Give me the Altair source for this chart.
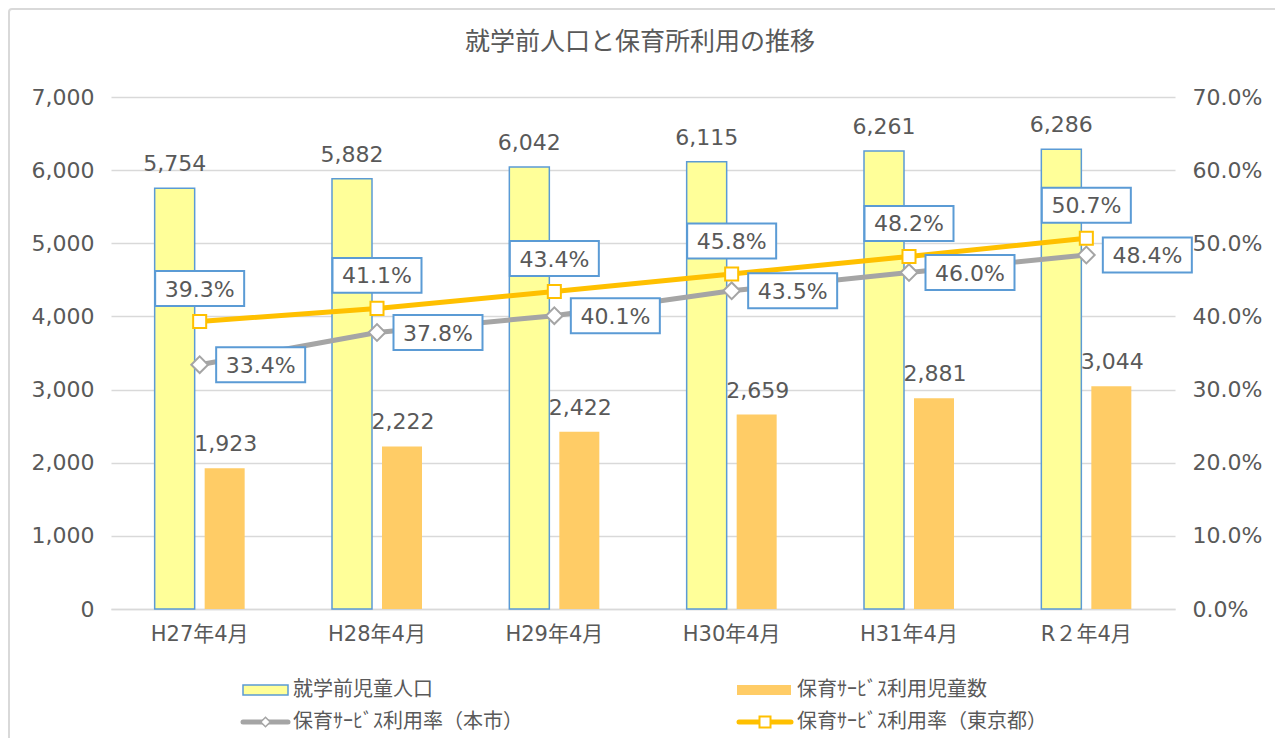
import altair as alt
import pandas as pd

# ---------------- data ----------------
categories = ["H27年4月", "H28年4月", "H29年4月", "H30年4月", "H31年4月", "R２年4月"]
preschool_pop = [5754, 5882, 6042, 6115, 6261, 6286]
service_users = [1923, 2222, 2422, 2659, 2881, 3044]
rate_city = [0.334, 0.378, 0.401, 0.435, 0.460, 0.484]
rate_tokyo = [0.393, 0.411, 0.434, 0.458, 0.482, 0.507]

series_names = ["就学前児童人口", "保育ｻｰﾋﾞｽ利用児童数",
                "保育ｻｰﾋﾞｽ利用率（本市）", "保育ｻｰﾋﾞｽ利用率（東京都）"]
chart_title = "就学前人口と保育所利用の推移"

df = pd.DataFrame({
    "cat": categories,
    "pop": preschool_pop,
    "users": service_users,
    "city": rate_city,
    "tokyo": rate_tokyo,
})
one = pd.DataFrame({"a": [0]})

# ---------------- style ----------------
NUM_FONT = "DejaVu Sans, Noto Sans CJK JP"
CJK_FONT = "Noto Sans CJK JP"
TXT = "#595959"
GRID = "#D9D9D9"
YELLOW = "#FFFF99"
BLUE = "#5B9BD5"
ORANGE = "#FFCC66"
GRAY = "#A5A5A5"
GOLD = "#FFC000"

W, H = 1064, 512
PAD = {"left": 103, "top": 89, "right": 100, "bottom": 129}

x_enc = alt.X("cat:N", sort=categories, title=None,
              scale=alt.Scale(paddingInner=0, paddingOuter=0),
              axis=alt.Axis(labelFont=NUM_FONT, labelFontSize=21, labelColor=TXT,
                            labelPadding=14, ticks=False, domainColor=GRID,
                            domainWidth=1.5, labelAngle=0))

yl_scale = alt.Scale(domain=[0, 7000])
yl_axis = alt.Axis(format=",.0f", values=[0, 1000, 2000, 3000, 4000, 5000, 6000, 7000],
                   labelFont=NUM_FONT, labelFontSize=22, labelColor=TXT,
                   labelPadding=17, ticks=False, domain=False,
                   grid=True, gridColor=GRID, gridWidth=1.5, title=None)
yr_scale = alt.Scale(domain=[0, 0.7])
yr_axis = alt.Axis(format=".1%", values=[0, 0.1, 0.2, 0.3, 0.4, 0.5, 0.6, 0.7],
                   labelFont=NUM_FONT, labelFontSize=22, labelColor=TXT,
                   labelPadding=17, ticks=False, domain=False, grid=False,
                   orient="right", title=None)

base = alt.Chart(df)

# ---------------- bars (left axis) ----------------
bar_pop = base.mark_bar(width=40, xOffset=-25, fill=YELLOW, stroke=BLUE,
                        strokeWidth=1.5).encode(
    x=x_enc, y=alt.Y("pop:Q", scale=yl_scale, axis=yl_axis))
bar_users = base.mark_bar(width=40, xOffset=25, fill=ORANGE).encode(
    x=x_enc, y=alt.Y("users:Q", scale=yl_scale, axis=yl_axis))
lbl_pop = base.mark_text(font=NUM_FONT, fontSize=22, color=TXT, baseline="alphabetic",
                         dx=-25, dy=-17).encode(
    x=x_enc, y=alt.Y("pop:Q", scale=yl_scale, axis=yl_axis),
    text=alt.Text("pop:Q", format=",.0f"))
lbl_users = base.mark_text(font=NUM_FONT, fontSize=22, color=TXT, baseline="alphabetic",
                           dx=26, dy=-17).encode(
    x=x_enc, y=alt.Y("users:Q", scale=yl_scale, axis=yl_axis),
    text=alt.Text("users:Q", format=",.0f"))
left = alt.layer(bar_pop, bar_users, lbl_pop, lbl_users)

# ---------------- lines (right axis) ----------------
BOX = "M-1,-0.393H1V0.393H-1Z"
line_city = base.mark_line(color=GRAY, strokeWidth=5).encode(
    x=x_enc, y=alt.Y("city:Q", scale=yr_scale, axis=yr_axis))
line_tokyo = base.mark_line(color=GOLD, strokeWidth=5).encode(
    x=x_enc, y=alt.Y("tokyo:Q", scale=yr_scale, axis=yr_axis))
pt_city = base.mark_point(shape="diamond", size=280, filled=True, fill="white",
                          stroke=GRAY, strokeWidth=2, opacity=1).encode(
    x=x_enc, y=alt.Y("city:Q", scale=yr_scale, axis=yr_axis))
pt_tokyo = base.mark_point(shape="square", size=170, filled=True, fill="white",
                           stroke=GOLD, strokeWidth=2, opacity=1).encode(
    x=x_enc, y=alt.Y("tokyo:Q", scale=yr_scale, axis=yr_axis))
box_city = base.mark_point(shape=BOX, size=7921, filled=True, fill="white",
                           stroke=BLUE, strokeWidth=2, opacity=1, xOffset=61).encode(
    x=x_enc, y=alt.Y("city:Q", scale=yr_scale, axis=yr_axis))
box_tokyo = base.mark_point(shape=BOX, size=7921, filled=True, fill="white",
                            stroke=BLUE, strokeWidth=2, opacity=1, yOffset=-33).encode(
    x=x_enc, y=alt.Y("tokyo:Q", scale=yr_scale, axis=yr_axis))
lbl_city = base.mark_text(font=NUM_FONT, fontSize=22, color=TXT, baseline="middle",
                          dx=61, dy=1).encode(
    x=x_enc, y=alt.Y("city:Q", scale=yr_scale, axis=yr_axis),
    text=alt.Text("city:Q", format=".1%"))
lbl_tokyo = base.mark_text(font=NUM_FONT, fontSize=22, color=TXT, baseline="middle",
                           dy=-32).encode(
    x=x_enc, y=alt.Y("tokyo:Q", scale=yr_scale, axis=yr_axis),
    text=alt.Text("tokyo:Q", format=".1%"))
right = alt.layer(line_city, line_tokyo, pt_city, pt_tokyo,
                  box_city, box_tokyo, lbl_city, lbl_tokyo)

# ---------------- decorations: frame, title, legend ----------------
deco = alt.Chart(one)
frame = deco.mark_rect(fill=None, stroke=GRID, strokeWidth=2, cornerRadius=3).encode(
    x=alt.value(-102), x2=alt.value(1169), y=alt.value(-88), y2=alt.value(700))
title = deco.mark_text(font=CJK_FONT, fontSize=25, color=TXT, baseline="middle",
                       align="center").encode(
    x=alt.value(W / 2 - 3), y=alt.value(-55), text=alt.value(chart_title))

def leg_text(label, x, y):
    return deco.mark_text(font=CJK_FONT, fontSize=20, color=TXT, align="left",
                          baseline="middle").encode(
        x=alt.value(x), y=alt.value(y), text=alt.value(label))

R1, R2 = 593, 625
leg_rect1 = deco.mark_rect(fill=YELLOW, stroke=BLUE, strokeWidth=1.5).encode(
    x=alt.value(132), x2=alt.value(177), y=alt.value(R1 - 5), y2=alt.value(R1 + 5))
leg_rect2 = deco.mark_rect(fill=ORANGE).encode(
    x=alt.value(626), x2=alt.value(680), y=alt.value(R1 - 5), y2=alt.value(R1 + 5))
leg_line1 = deco.mark_rule(color=GRAY, strokeWidth=5, strokeCap="round").encode(
    x=alt.value(132), x2=alt.value(177), y=alt.value(R2))
leg_pt1 = deco.mark_point(shape="diamond", size=90, filled=True, fill="white",
                          stroke=GRAY, strokeWidth=1.5, opacity=1).encode(
    x=alt.value(154.5), y=alt.value(R2))
leg_line2 = deco.mark_rule(color=GOLD, strokeWidth=5, strokeCap="round").encode(
    x=alt.value(628), x2=alt.value(680), y=alt.value(R2))
leg_pt2 = deco.mark_point(shape="square", size=121, filled=True, fill="white",
                          stroke=GOLD, strokeWidth=2, opacity=1).encode(
    x=alt.value(654), y=alt.value(R2))
legend = alt.layer(
    leg_rect1, leg_text(series_names[0], 182, R1),
    leg_rect2, leg_text(series_names[1], 686, R1),
    leg_line1, leg_pt1, leg_text(series_names[2], 182, R2),
    leg_line2, leg_pt2, leg_text(series_names[3], 686, R2),
)

chart = alt.layer(left, right, frame, title, legend).resolve_scale(
    y="independent"
).properties(
    width=W, height=H,
    autosize=alt.AutoSizeParams(type="none"),
    padding=PAD,
    background="white",
).configure_view(stroke=None).configure_axisY(grid=False)

chart.save("out.html", embed_options={"renderer": "svg", "actions": False})
